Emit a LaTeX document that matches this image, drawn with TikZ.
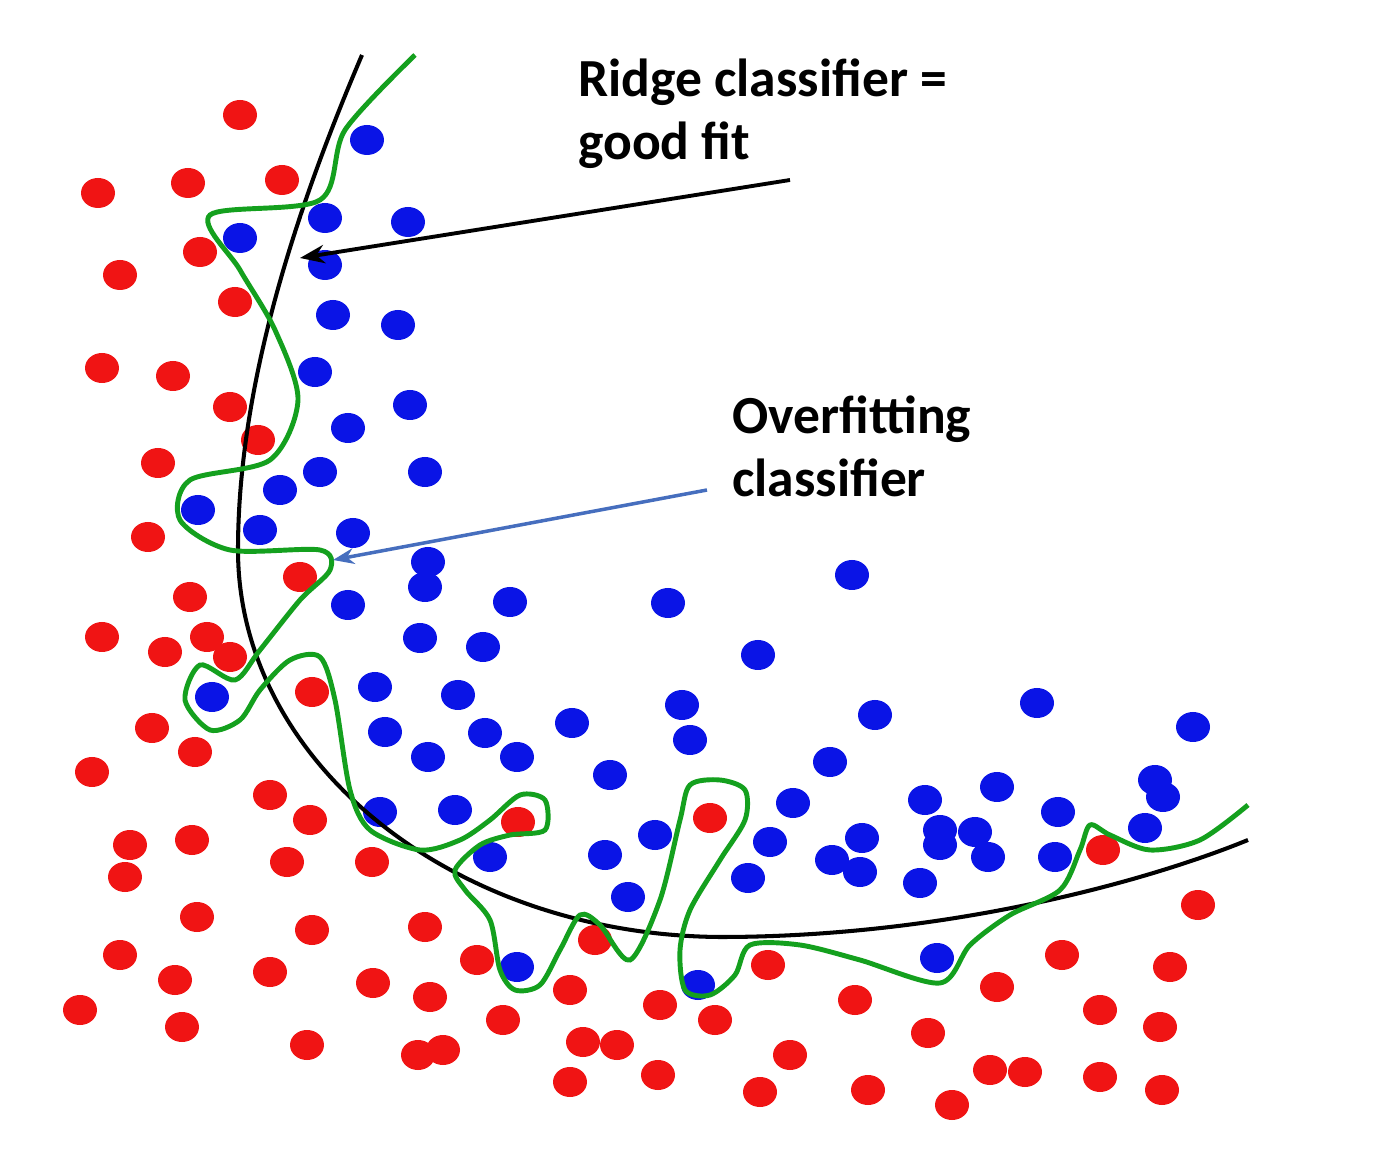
\documentclass[tikz,border=0pt]{standalone}
\usepackage{fontspec}
\setmainfont{Carlito}
\usetikzlibrary{arrows.meta}
\definecolor{dred}{RGB}{240,20,20}
\definecolor{dblue}{RGB}{10,20,230}
\definecolor{dgreen}{RGB}{20,160,30}
\definecolor{arrblue}{RGB}{70,110,190}
\begin{document}
\begin{tikzpicture}[x=0.02cm,y=-0.02cm,
  rd/.style={fill=dred,draw=none},
  bd/.style={fill=dblue,draw=none},
  lbl/.style={anchor=north west,align=left,font=\bfseries\fontsize{30.5}{36}\selectfont,inner sep=0pt}]
\useasboundingbox (0,0) rectangle (1373,1168);
\foreach \x/\y in {240/115,98/193,188/183,282/180,200/252,120/275,235/302,102/368,173/376,230/407,258/440,158/463,148/537,300/577,190/597,102/637,165/652,207/637,230/657,312/692,152/728,195/752,92/772,270/795,310/820,130/845,192/840,125/877,287/862,372/862,197/917,312/930,120/955,175/980,270/972,80/1010,182/1027,307/1045,373/983,425/927,430/997,477/960,503/1020,418/1055,443/1050,570/990,595/940,583/1042,617/1045,570/1082,658/1075,660/1005,715/1020,710/818,518/822,768/965,790/1055,760/1092,855/1000,868/1090,928/1033,952/1105,997/987,990/1070,1025/1072,1062/955,1100/1010,1100/1077,1160/1027,1162/1090,1170/967,1198/905,1103/850}
  \fill[rd] (\x,\y) ellipse [x radius=17, y radius=15];
\foreach \x/\y in {367/140,325/218,408/222,240/238,325/265,333/315,398/325,315/372,410/405,348/428,320/472,425/472,280/490,198/510,260/530,353/533,428/562,425/587,348/605,510/602,668/603,852/575,420/638,483/647,758/655,212/697,375/687,458/695,682/705,875/715,1037/703,1193/727,385/732,485/733,572/723,690/740,428/757,517/757,830/762,610/775,997/787,1155/780,380/812,455/810,793/803,925/800,1058/812,1163/797,655/835,770/842,862/838,940/830,975/832,1145/828,490/857,605/855,832/860,860/872,988/857,1055/857,940/845,748/878,920/883,628/897,517/967,698/985,937/958}
  \fill[bd] (\x,\y) ellipse [x radius=17, y radius=15];
\draw[line width=2.3pt,black] (362,55) .. controls (300,200) and (238,380) .. (238,550) .. controls (238,760) and (450,935) .. (720,937) .. controls (950,937) and (1150,880) .. (1248,840);
\draw[line width=2.8pt,dgreen] plot[smooth,tension=0.5] coordinates {(415,55) (345,130) (320,200) (210,215) (240,270) (275,330) (298,400) (270,460) (190,480) (180,520) (230,550) (320,550) (330,570) (300,600) (260,650) (235,680) (200,665) (185,700) (210,730) (240,720) (260,690) (290,660) (320,657) (335,700) (350,790) (370,830) (420,850) (460,840) (490,820) (520,795) (545,800) (545,830) (510,835) (480,845) (455,870) (465,890) (490,920) (500,970) (515,990) (540,985) (560,950) (580,915) (600,925) (630,960) (660,900) (680,820) (690,785) (720,780) (745,790) (745,820) (720,860) (690,910) (680,950) (685,990) (710,995) (735,975) (750,945) (800,945) (860,960) (940,983) (970,945) (1010,915) (1060,890) (1080,850) (1090,825) (1110,835) (1150,850) (1200,840) (1248,805)};
\node[lbl] (ridge) at (578,58) {Ridge classifier =\\good fit};
\node[lbl] (over) at (732,395) {Overfitting\\classifier};
\coordinate (rs) at (790,180);
\coordinate (rt) at (300,258);
\coordinate (os) at (707,490);
\coordinate (ot) at (333,560);
\draw[line width=2.2pt,-{Stealth[length=14pt]}] (rs) -- (rt);
\draw[line width=2pt,arrblue,-{Stealth[length=12pt]}] (os) -- (ot);
\end{tikzpicture}
\end{document}
